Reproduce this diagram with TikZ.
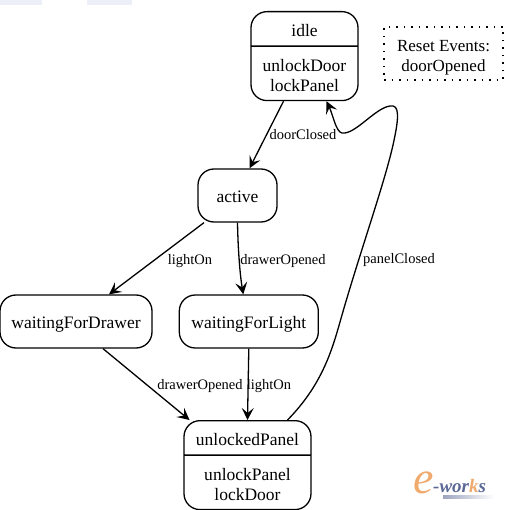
\documentclass[tikz,border=0pt]{standalone}
\usepackage{fontspec}
\setmainfont{Liberation Serif}
\usetikzlibrary{positioning,arrows.meta,shapes.multipart}
\definecolor{BandBlue}{RGB}{236,239,248}
\definecolor{LogoOrange}{RGB}{240,170,110}
\definecolor{LogoBlue}{RGB}{92,104,150}
\newcommand{\partstrut}{\rule{0pt}{16pt}}
\tikzset{
  state/.style={draw, line width=1.3pt, rounded corners=16pt, inner sep=0pt, font=\fontsize{17.5}{20}\selectfont},
  plainstate/.style={state, text height=14pt, text depth=0pt, minimum height=53pt},
  splitstate/.style={state, rectangle split, rectangle split parts=2, inner xsep=0pt, inner ysep=8.5pt, align=center},
  trans/.style={-{Stealth[length=12pt,width=12pt,inset=5pt]}, line width=1.3pt},
  edgelabel/.style={font=\fontsize{14.5}{16}\selectfont, inner sep=0pt}
}

\begin{document}
\begin{tikzpicture}[x=1pt, y=-1pt]
  \useasboundingbox (0,0) rectangle (507,510);
  \fill[BandBlue] (0,0) rectangle (42,5);
  \fill[BandBlue] (87,0) rectangle (132,5);

  \node[splitstate, minimum width=107pt, anchor=north] (idle) at (304.5,11)
    {\partstrut idle \nodepart{two} \partstrut unlockDoor\\lockPanel};
  \node[draw, line width=1.3pt, dash pattern=on 1.5pt off 6pt, minimum width=119pt, minimum height=53pt, inner sep=0pt,
        align=center, font=\fontsize{17}{20}\selectfont] (resetEvents) at (443.5,53.5)
    {\rule{0pt}{19pt}Reset Events:\\doorOpened};
  \node[plainstate, minimum width=79pt] (active) at (237.5,195.5) {active};
  \node[plainstate, minimum width=152pt] (waitingForDrawer) at (76,321.5) {waitingForDrawer};
  \node[plainstate, minimum width=139pt, right=26pt of waitingForDrawer] (waitingForLight) {waitingForLight};
  \node[splitstate, minimum width=127pt, anchor=north] (unlockedPanel) at (247.5,420)
    {\partstrut unlockedPanel \nodepart{two} \partstrut unlockPanel\\lockDoor};

  % labels
  \node[edgelabel] (lblDoorClosed) at (303,135) {doorClosed};
  \node[edgelabel] (lblLightOnA) at (190,261) {lightOn};
  \node[edgelabel] (lblDrawerA) at (283,261) {drawerOpened};
  \node[edgelabel] (lblPanelClosed) at (399,260) {panelClosed};
  \node[edgelabel] (lblDrawerB) at (200,386) {drawerOpened};
  \node[edgelabel] (lblLightOnB) at (269,386) {lightOn};

  \draw[trans] ([xshift=-21pt]idle.south) -- ([xshift=12pt]active.north);
  \draw[trans] ([xshift=-33.5pt]active.south) -- ([xshift=33pt]waitingForDrawer.north);
  \draw[trans] (active.south) .. controls (238,250) and (240,275) .. ([xshift=-5.5pt]waitingForLight.north);
  \draw[trans] ([xshift=27pt]waitingForDrawer.south) -- ([xshift=-58pt]unlockedPanel.north);
  \draw[trans] (waitingForLight.south) -- (unlockedPanel.north);
  \draw[trans] ([xshift=40pt]unlockedPanel.north) .. controls (322,385) and (332,350) .. (340,322)
    .. controls (358,258) and (384,185) .. (393,145)
    .. controls (399,118) and (400,104) .. (390,106)
    .. controls (375,108) and (355,135) .. (342,133)
    .. controls (336,132) and (333,115) .. ([xshift=22pt]idle.south);

  % logo
  \node[font=\fontsize{46}{46}\itshape\selectfont, text=LogoOrange, inner sep=0pt] (logoE) at (424,483) {e};
  \node[font=\fontsize{19}{19}\bfseries\itshape\selectfont, text=LogoBlue, inner sep=0pt, anchor=west] (logoWorks) at (433,486)
    {-wor\textcolor{LogoOrange}{k}s};
  \shade[left color=LogoBlue!60, right color=white] (443,495) rectangle (494,498);
\end{tikzpicture}
\end{document}
